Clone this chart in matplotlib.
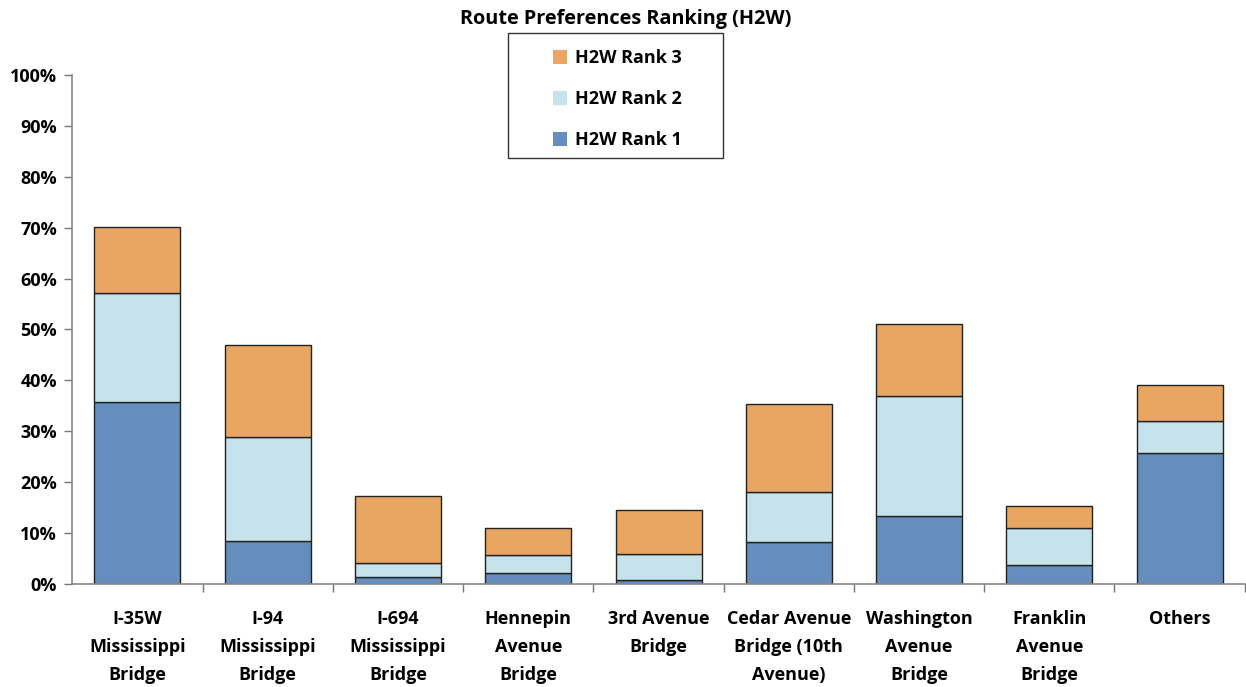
import matplotlib
matplotlib.use('Agg')
import matplotlib.pyplot as plt
import numpy as np
from matplotlib.ticker import FuncFormatter, FixedLocator
from matplotlib.patches import Rectangle

# route categories and stacked shares (percent of respondents)
routes = ['I-35W\nMississippi\nBridge', 'I-94\nMississippi\nBridge', 'I-694\nMississippi\nBridge',
          'Hennepin\nAvenue\nBridge', '3rd Avenue\nBridge', 'Cedar Avenue\nBridge (10th\nAvenue)',
          'Washington\nAvenue\nBridge', 'Franklin\nAvenue\nBridge', 'Others']
rank1 = [35.8, 8.4, 1.4, 2.2, 0.8, 8.3, 13.4, 3.7, 25.7]
rank2 = [21.4, 20.5, 2.7, 3.5, 5.1, 9.7, 23.5, 7.3, 6.3]
rank3 = [12.9, 18.1, 13.2, 5.3, 8.6, 17.4, 14.2, 4.3, 7.1]

series_names = ['H2W Rank 1', 'H2W Rank 2', 'H2W Rank 3']
colors = ['#658dbd', '#c6e2ea', '#e9a663']

plt.rcParams['font.family'] = ['Open Sans', 'DejaVu Sans']
FS = 13

fig = plt.figure(figsize=(12.46, 6.87), dpi=100)
ax = fig.add_axes([0.058, 0.150, 0.941, 0.741])

x = np.arange(len(routes))
bottom = np.zeros(len(routes))
for vals, name, c in zip([rank1, rank2, rank3], series_names, colors):
    vals = np.array(vals) / 100
    ax.bar(x, vals, width=0.66, bottom=bottom, color=c, edgecolor='#222222',
           linewidth=1.0, label=name)
    bottom = bottom + vals

ax.set_xlim(-0.5, len(routes) - 0.5)
ax.set_ylim(0, 1.0)
ax.yaxis.set_major_locator(FixedLocator(np.arange(0, 1.01, 0.1)))
ax.yaxis.set_major_formatter(FuncFormatter(lambda v, p: '%d%%' % round(v * 100)))
ax.set_xticks(x)
ax.set_xticklabels(routes, fontsize=FS, fontweight='bold', linespacing=1.7, va='top')
ax.tick_params(axis='x', length=0, pad=19)
ax.xaxis.set_minor_locator(FixedLocator(np.arange(0.5, len(routes) - 0.4, 1.0)))
ax.tick_params(axis='x', which='minor', length=6, width=1, color='#777777', direction='out')
ax.tick_params(axis='y', length=6, width=1, color='#777777', labelsize=FS, pad=5)
for lab in ax.get_yticklabels():
    lab.set_fontweight('bold')

for side in ['top', 'right']:
    ax.spines[side].set_visible(False)
for side in ['left', 'bottom']:
    ax.spines[side].set_color('#888888')
    ax.spines[side].set_linewidth(1.2)

fig.suptitle('Route Preferences Ranking (H2W)', x=0.502, y=0.987, fontsize=14.3, fontweight='bold')

handles, labels = ax.get_legend_handles_labels()
leg = fig.legend(handles[::-1], labels[::-1], loc='upper left', bbox_to_anchor=(0.4435, 0.928),
                 frameon=False, prop={'weight': 'bold', 'size': FS}, handlelength=0.8,
                 handleheight=0.8, handletextpad=0.45, labelspacing=1.26, borderpad=0,
                 borderaxespad=0)
for h in leg.legend_handles:
    h.set_edgecolor('none')
# legend frame
fig.patches.append(Rectangle((508 / 1246, 1 - 158 / 687), 215 / 1246, 125 / 687,
                             transform=fig.transFigure, fill=False, edgecolor='#333333',
                             linewidth=1.0))

plt.savefig('out.png', dpi=100)
